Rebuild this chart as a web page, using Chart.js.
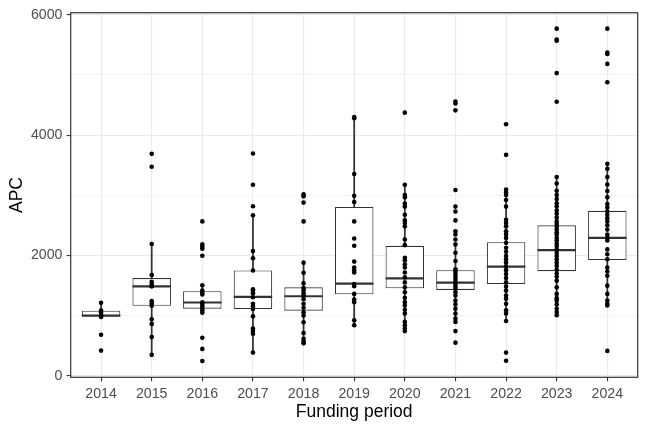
<!DOCTYPE html>
<html>
<head>
<meta charset="utf-8">
<script src="https://cdn.jsdelivr.net/npm/chart.js@4.4.1/dist/chart.umd.min.js"></script>
<style>
html,body{margin:0;padding:0;background:#fff;}
#wrap{width:648px;height:432px;}
</style>
</head>
<body>
<div id="wrap"><canvas id="c" width="648" height="432"></canvas></div>
<script>
// ---- data ----
const years = ['2014','2015','2016','2017','2018','2019','2020','2021','2022','2023','2024'];

const p2014 = [1211, 1084, 1046, 1002, 990, 975, 679, 416];
const p2015 = [3688, 3474, 2187, 1672, 1562, 1524, 1485, 1485, 1238, 1195, 1162, 937, 860, 641, 345];
const p2016 = [2565, 2182, 2142, 2109, 1994, 1501, 1414, 1376, 1348, 1221, 1195, 1156, 1123, 1085, 1047, 630, 444, 242];
const p2017 = [3694, 3173, 2816, 2668, 2071, 1951, 1748, 1435, 1414, 1370, 1304, 1195, 1151, 1107, 986, 784, 740, 695, 383];
const p2018 = [3014, 2981, 2877, 2565, 1879, 1710, 1534, 1458, 1414, 1370, 1326, 1271, 1195, 1129, 1052, 998, 888, 707, 613, 570, 537];
const p2019 = [4300, 4280, 3354, 2992, 2888, 2565, 2280, 2159, 1896, 1797, 1754, 1715, 1524, 1485, 1359, 1266, 1222, 921, 838];
const p2020 = [4373, 3173, 3003, 2965, 2861, 2811, 2675, 2581, 2537, 2482, 2263, 2170, 1961, 1918, 1853, 1797, 1715, 1633, 1550, 1468, 1386, 1294, 1222, 1167, 1096, 1031, 893, 838, 784, 740];
const p2021 = [4559, 4526, 4411, 3086, 2811, 2729, 2581, 2400, 2346, 2263, 2182, 2044, 1907, 1770, 1731, 1688, 1644, 1606, 1562, 1524, 1480, 1442, 1386, 1332, 1249, 1184, 1113, 1031, 949, 893, 740, 548];
const p2022 = [4181, 3671, 3096, 3047, 3003, 2921, 2811, 2592, 2537, 2482, 2400, 2346, 2290, 2208, 2126, 2060, 1989, 1935, 1879, 1813, 1754, 1688, 1622, 1550, 1480, 1414, 1332, 1277, 1195, 1085, 1031, 909, 383, 247];
const p2023 = [5770, 5590, 5570, 5031, 4554, 3304, 3194, 3074, 3003, 2938, 2866, 2811, 2745, 2690, 2630, 2565, 2521, 2477, 2428, 2384, 2346, 2290, 2247, 2198, 2154, 2099, 2044, 1989, 1935, 1879, 1825, 1759, 1698, 1644, 1578, 1468, 1359, 1288, 1249, 1184, 1113, 1057, 1003];
const p2024 = [5770, 5371, 5348, 5184, 4878, 3523, 3441, 3304, 3178, 3069, 2965, 2855, 2795, 2729, 2675, 2619, 2565, 2499, 2428, 2346, 2290, 2247, 2099, 2017, 1935, 1797, 1731, 1660, 1496, 1359, 1249, 1195, 1167, 411];

const q1          = [986, 1162, 1113, 1107, 1080, 1353, 1452, 1425, 1524, 1737, 1923];
const median      = [997, 1485, 1216, 1310, 1320, 1529, 1616, 1545, 1813, 2088, 2290];
const q3          = [1079, 1622, 1403, 1748, 1469, 2806, 2159, 1754, 2219, 2499, 2741];
const whiskerLow  = [975, 345, 1047, 383, 537, 838, 740, 949, 909, 1003, 1167];
const whiskerHigh = [1211, 2187, 1501, 2668, 1879, 4300, 3173, 2182, 3096, 3304, 3523];

const yTicks = [0, 1000, 2000, 3000, 4000, 5000, 6000];
const xTitle = 'Funding period';
const yTitle = 'APC';

// ---- build library structures ----
const pointSets = [p2014, p2015, p2016, p2017, p2018, p2019, p2020, p2021, p2022, p2023, p2024];
const pointData = [];
pointSets.forEach((arr, i) => arr.forEach(v => pointData.push({x: +years[i], y: v})));
const boxData = years.map((y, i) => ({x: +y, y: [q1[i], q3[i]]}));
const lowData = years.map((y, i) => ({x: +y, y: [whiskerLow[i], q1[i]]}));
const highData = years.map((y, i) => ({x: +y, y: [q3[i], whiskerHigh[i]]}));

const BOXW = 0.76;
const DARK = '#333333';
const FONT = "'Liberation Sans', Arial, sans-serif";
const BOX_INDEX = 1;

// median lines drawn right after the boxes, through the chart's scales
const medianLines = {
  id: 'medianLines',
  afterDatasetDraw(chart, args) {
    if (args.index !== BOX_INDEX) return;
    const xs = chart.scales.x, ys = chart.scales.y, ctx = chart.ctx;
    const half = Math.abs(xs.getPixelForValue(+years[1]) - xs.getPixelForValue(+years[0])) * BOXW / 2;
    ctx.save();
    ctx.strokeStyle = DARK;
    ctx.lineWidth = 2.2;
    ctx.beginPath();
    years.forEach((y, i) => {
      const px = xs.getPixelForValue(+y), py = ys.getPixelForValue(median[i]);
      ctx.moveTo(px - half, py);
      ctx.lineTo(px + half, py);
    });
    ctx.stroke();
    ctx.restore();
  }
};

const panelBorder = {
  id: 'panelBorder',
  afterDatasetsDraw(chart) {
    const a = chart.chartArea, ctx = chart.ctx;
    ctx.save();
    ctx.strokeStyle = DARK;
    ctx.lineWidth = 1.2;
    ctx.strokeRect(a.left, a.top, a.right - a.left, a.bottom - a.top);
    ctx.restore();
  }
};

new Chart(document.getElementById('c'), {
  data: {
    datasets: [
      {type: 'scatter', data: pointData, order: 0, pointRadius: 2.3, pointBorderWidth: 0,
       pointBackgroundColor: '#000000', pointHoverRadius: 2.3},
      {type: 'bar', data: boxData, order: 3, grouped: false, barPercentage: BOXW, categoryPercentage: 1,
       backgroundColor: '#ffffff', borderColor: DARK, borderWidth: 1.1, borderSkipped: false},
      {type: 'bar', data: lowData, order: 2, grouped: false, barThickness: 1.1,
       backgroundColor: DARK, borderWidth: 0},
      {type: 'bar', data: highData, order: 2, grouped: false, barThickness: 1.1,
       backgroundColor: DARK, borderWidth: 0}
    ]
  },
  options: {
    responsive: false,
    animation: false,
    events: [],
    layout: {padding: {top: 10, right: 10.3, bottom: 0, left: 0}},
    plugins: {legend: {display: false}, tooltip: {enabled: false}},
    scales: {
      x: {
        type: 'linear',
        offset: false,
        min: 2013.4, max: 2024.6,
        afterBuildTicks: s => { s.ticks = years.map(y => ({value: +y})); },
        afterFit: s => { s.height = 54.7; },
        ticks: {callback: v => String(v), color: '#4D4D4D', font: {family: FONT, size: 14.2},
                padding: 4.1, autoSkip: false, maxRotation: 0},
        grid: {offset: false, color: '#EBEBEB', lineWidth: 1.1, tickColor: DARK, tickLength: 4, tickWidth: 1.1},
        border: {display: false},
        title: {display: true, text: xTitle, color: '#000000', font: {family: FONT, size: 17.5},
                padding: {top: 0, bottom: 9.1}}
      },
      y: {
        type: 'linear',
        min: -28, max: 6035,
        afterBuildTicks: s => { s.ticks = yTicks.map(v => ({value: v})); },
        afterFit: s => { s.width = 70.7; },
        ticks: {callback: v => (v % 2000 === 0 ? String(v) : ''), color: '#4D4D4D',
                font: {family: FONT, size: 14.2}, padding: 4.2},
        grid: {
          color: '#EBEBEB',
          lineWidth: c => (c.tick && c.tick.value % 2000 === 0 ? 1.1 : 0.55),
          tickColor: c => (c.tick && c.tick.value % 2000 === 0 ? DARK : 'rgba(0,0,0,0)'),
          tickLength: 4, tickWidth: 1.1
        },
        border: {display: false},
        title: {display: true, text: yTitle, color: '#000000', font: {family: FONT, size: 17.5},
                padding: {top: 6.2, bottom: 0}}
      }
    }
  },
  plugins: [medianLines, panelBorder]
});
</script>
</body>
</html>
